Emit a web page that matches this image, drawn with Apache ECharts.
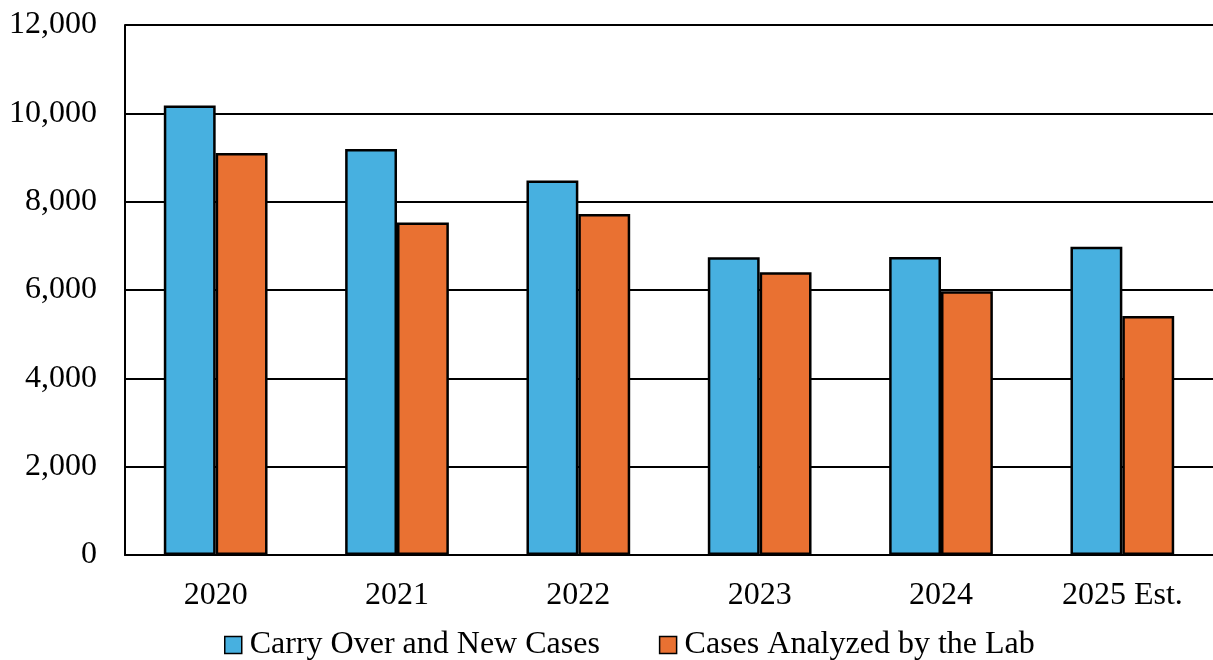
<!DOCTYPE html>
<html>
<head>
<meta charset="utf-8">
<script src="https://cdn.jsdelivr.net/npm/echarts@6/dist/echarts.min.js"></script>
<style>
  html, body { margin: 0; padding: 0; background: #ffffff; }
  #chart { width: 1213px; height: 660px; }
</style>
</head>
<body>
<div id="chart"></div>
<script>
// Yearly caseload figures
const years = ['2020', '2021', '2022', '2023', '2024', '2025 Est.'];
const carryOverAndNew = [10180, 9190, 8480, 6740, 6750, 6980];
const analyzedByLab = [9100, 7530, 7720, 6400, 5970, 5410];
const seriesNames = ['Carry Over and New Cases', 'Cases Analyzed by the Lab'];
const yTicks = { min: 0, max: 12000, interval: 2000 };

const FONT = '"Liberation Serif", "Times New Roman", serif';
const chart = echarts.init(document.getElementById('chart'), null, { renderer: 'canvas' });

chart.setOption({
  animation: false,
  backgroundColor: '#ffffff',
  textStyle: { fontFamily: FONT },
  // plot area runs slightly past the right edge of the canvas
  grid: { left: 125, right: -9, top: 25, bottom: 105, containLabel: false },
  legend: {
    top: 629,
    left: 224,
    padding: 0,
    itemWidth: 17,
    itemHeight: 17,
    itemGap: 59,
    icon: 'rect',
    itemStyle: { borderColor: '#000000', borderWidth: 1.5 },
    textStyle: { fontFamily: FONT, fontSize: 32, color: '#000000', padding: [0, 0, 0, 3] },
    data: seriesNames
  },
  xAxis: {
    type: 'category',
    data: years,
    axisLine: { show: true, lineStyle: { color: '#000000', width: 2 } },
    axisTick: { show: false },
    axisLabel: { fontFamily: FONT, fontSize: 32, color: '#000000', margin: 25 }
  },
  yAxis: {
    type: 'value',
    min: yTicks.min,
    max: yTicks.max,
    interval: yTicks.interval,
    axisLine: { show: true, lineStyle: { color: '#000000', width: 2 } },
    axisTick: { show: false },
    axisLabel: {
      fontFamily: FONT, fontSize: 32, color: '#000000', margin: 28,
      formatter: v => v.toLocaleString('en-US')
    },
    splitLine: { show: true, lineStyle: { color: '#000000', width: 2 } }
  },
  series: [
    {
      name: seriesNames[0],
      type: 'bar',
      data: carryOverAndNew,
      barGap: '0%',
      barCategoryGap: '42.8%',
      itemStyle: { color: '#47B0E0', borderColor: '#000000', borderWidth: 2.5 }
    },
    {
      name: seriesNames[1],
      type: 'bar',
      data: analyzedByLab,
      barGap: '0%',
      barCategoryGap: '42.8%',
      itemStyle: { color: '#E97132', borderColor: '#000000', borderWidth: 2.5 }
    }
  ]
});
</script>
</body>
</html>
